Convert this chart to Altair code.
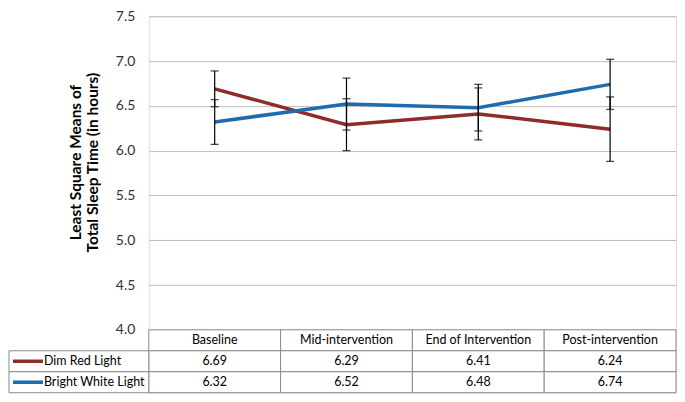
import altair as alt
import pandas as pd

categories = ["Baseline", "Mid-intervention", "End of Intervention", "Post-intervention"]
series_names = ["Dim Red Light", "Bright White Light"]
dim_red = [6.69, 6.29, 6.41, 6.24]
bright_white = [6.32, 6.52, 6.48, 6.74]
dim_red_err = [0.20, 0.29, 0.29, 0.36]
bright_white_err = [0.25, 0.29, 0.26, 0.28]
y_ticks = [4.0, 4.5, 5.0, 5.5, 6.0, 6.5, 7.0, 7.5]
colors = ["#8E2B2B", "#1E6BB0"]

rows = []
for s, vals, errs in [(series_names[0], dim_red, dim_red_err),
                      (series_names[1], bright_white, bright_white_err)]:
    for c, v, e in zip(categories, vals, errs):
        rows.append({"series": s, "row": s, "cat": c, "value": v,
                     "lo": v - e, "hi": v + e, "label": f"{v:.2f}"})
df = pd.DataFrame(rows)
header = pd.DataFrame({"cat": categories, "row": ["header"] * 4, "label": categories})
table_df = pd.concat([header, df[["cat", "row", "label"]]], ignore_index=True)
row_labels = pd.DataFrame({"row": series_names, "series": series_names})

FONT = "Lato"
W = 528
H = 314
ROW_H = 21

x_pt = alt.X("cat:N", sort=categories, scale=alt.Scale(type="point", padding=0.5), axis=None)
y_axis = alt.Axis(values=y_ticks, format=".1f",
                  title=["Least Square Means of", "Total Sleep Time (in hours)"],
                  titleFont=FONT, titleFontSize=15.5, titleFontWeight="bold", titleColor="black",
                  titleLineHeight=16.5, titlePadding=15, titleY=146,
                  labelFont=FONT, labelFontSize=14, labelColor="#333333", labelPadding=14,
                  grid=True, gridColor="#BDBDBD", gridWidth=1, domain=False, ticks=False)
y_scale = alt.Scale(domain=[4, 7.5], nice=False, zero=False)
color = alt.Color("series:N", scale=alt.Scale(domain=series_names, range=colors), legend=None)

lines = alt.Chart(df).mark_line(strokeWidth=3.5).encode(
    x=x_pt, y=alt.Y("value:Q", scale=y_scale, axis=y_axis), color=color)
bars = alt.Chart(df).mark_rule(color="black", strokeWidth=1.2).encode(
    x=x_pt, y=alt.Y("lo:Q", scale=y_scale, axis=y_axis), y2="hi:Q")
cap_lo = alt.Chart(df).mark_tick(color="black", size=8, thickness=1.3).encode(
    x=x_pt, y=alt.Y("lo:Q", scale=y_scale, axis=y_axis))
cap_hi = alt.Chart(df).mark_tick(color="black", size=8, thickness=1.3).encode(
    x=x_pt, y=alt.Y("hi:Q", scale=y_scale, axis=y_axis))

top = alt.layer(lines, bars, cap_lo, cap_hi).properties(width=W, height=H)

x_band = alt.X("cat:N", sort=categories,
               scale=alt.Scale(type="band", domain=categories, paddingInner=0, paddingOuter=0), axis=None)
y_band = alt.Y("row:N", scale=alt.Scale(type="band", domain=["header"] + series_names,
                                        paddingInner=0, paddingOuter=0), axis=None)
BORDER = "#8A8A8A"
cells = alt.Chart(table_df).mark_rect(fill="white", stroke=BORDER, strokeWidth=1).encode(x=x_band, y=y_band)
cell_text = alt.Chart(table_df).mark_text(font=FONT, fontSize=12.5, color="black").encode(
    x=x_band, y=y_band, text="label:N")
label_cells = alt.Chart(row_labels).mark_rect(fill="white", stroke=BORDER, strokeWidth=1).encode(
    x=alt.value(-140), x2=alt.value(0), y=y_band)
swatches = alt.Chart(row_labels).mark_rule(strokeWidth=3.5).encode(
    x=alt.value(-136), x2=alt.value(-106), y=y_band, color=color)
label_text = alt.Chart(row_labels).mark_text(font=FONT, fontSize=12.5, color="black", align="left").encode(
    x=alt.value(-105), y=y_band, text="row:N")

table = alt.layer(cells, cell_text, label_cells, swatches, label_text).properties(width=W, height=3 * ROW_H)

chart = alt.vconcat(top, table, spacing=0, bounds="flush").properties(
    padding={"left": 0, "top": 0, "right": 0, "bottom": 0}
).configure_view(stroke=None).configure(background="white")

chart.save("out.html", embed_options={"renderer": "svg", "actions": False})
